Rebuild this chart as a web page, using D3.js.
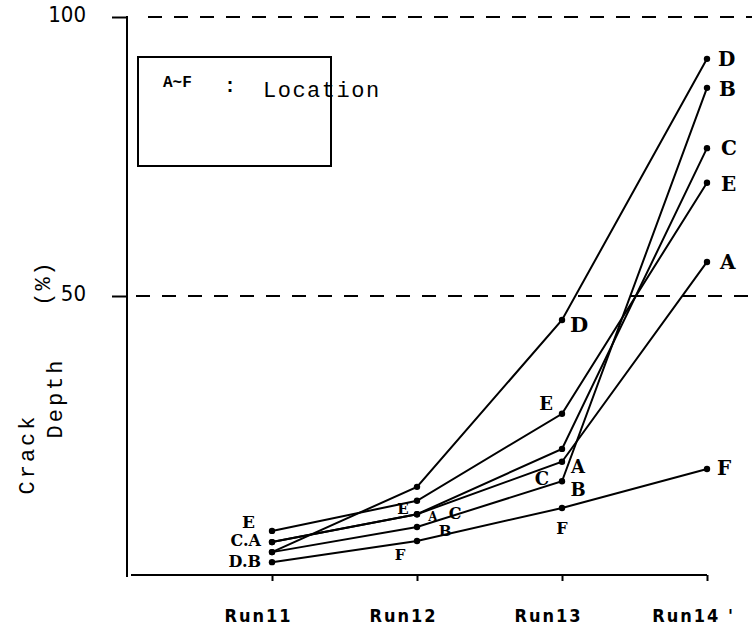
<!DOCTYPE html>
<html><head><meta charset="utf-8">
<script src="https://cdn.jsdelivr.net/npm/d3@7"></script>
<style>
body{margin:0;background:#fff;}
svg{display:block;}
.serif{font-family:"DejaVu Serif","Liberation Serif",serif;}
.mono{font-family:"Liberation Mono","DejaVu Sans Mono",monospace;}
.narrow{font-family:"Liberation Sans Narrow","DejaVu Sans Condensed","Liberation Sans",sans-serif;font-stretch:condensed;}
</style></head>
<body>
<svg id="chart" width="752" height="641"></svg>
<script>
// ---------- data ----------
const runs = ["Run11", "Run12", "Run13", "Run14"];
const runLabels = ["Run11", "Run12", "Run13", "Run14 '"];
const yTicks = [50, 100];
const seriesA = [5.9, 10.9, 20.3, 56.1];
const seriesB = [4.1, 8.6, 16.8, 87.3];
const seriesC = [5.9, 10.9, 22.6, 76.5];
const seriesD = [4.1, 15.8, 45.7, 92.5];
const seriesE = [7.9, 13.3, 28.9, 70.3];
const seriesF = [2.3, 6.1, 12.0, 19.0];
const seriesNames = ["A", "B", "C", "D", "E", "F"];
const legendKey = "A~F";
const legendText = "Location";
const yTitle = ["Crack", "Depth", "(%)"];

// point label texts: [run index, value, text]
const pointLabels = [
  [0, 7.9, "E"], [0, 5.9, "C.A"], [0, 4.1, "D.B"],
  [1, 13.3, "E"], [1, 10.9, "A"], [1, 10.9, "C"], [1, 8.6, "B"], [1, 6.1, "F"],
  [2, 45.7, "D"], [2, 28.9, "E"], [2, 16.8, "C"], [2, 20.3, "A"], [2, 16.8, "B"], [2, 12.0, "F"],
  [3, 92.5, "D"], [3, 87.3, "B"], [3, 76.5, "C"], [3, 70.3, "E"], [3, 56.1, "A"], [3, 19.0, "F"]
];

// ---------- layout / styles ----------
const labelStyle = [
  {dx:-17, dy:-3, size:17, anchor:"end"}, {dx:-11, dy:4, size:16, anchor:"end"}, {dx:-11, dy:15, size:16, anchor:"end"},
  {dx:-14, dy:13, size:15, anchor:"middle"}, {dx:16, dy:7, size:12, anchor:"middle"}, {dx:38, dy:5, size:16, anchor:"middle"}, {dx:28, dy:9, size:15, anchor:"middle"}, {dx:-17, dy:19, size:15, anchor:"middle"},
  {dx:8, dy:12, size:21, anchor:"start"}, {dx:-16, dy:-4, size:18, anchor:"middle"}, {dx:-20, dy:4, size:18, anchor:"middle"}, {dx:16, dy:11, size:18, anchor:"middle"}, {dx:16, dy:15, size:18, anchor:"middle"}, {dx:0, dy:26, size:16, anchor:"middle"},
  {dx:11, dy:7, size:20, anchor:"start"}, {dx:12, dy:8, size:20, anchor:"start"}, {dx:14, dy:7, size:20, anchor:"start"}, {dx:14, dy:8, size:20, anchor:"start"}, {dx:13, dy:7, size:20, anchor:"start"}, {dx:10, dy:6, size:20, anchor:"start"}
];

const svg = d3.select("#chart");
const x = d3.scalePoint().domain(runs).range([272, 707]);
const y = d3.scaleLinear().domain([0, 100]).range([575, 17]);
const allSeries = [seriesA, seriesB, seriesC, seriesD, seriesE, seriesF];

// dashed reference lines
svg.append("g").selectAll("line").data(yTicks).join("line")
  .attr("x1", d => d === 100 ? 148 : 136).attr("x2", 752)
  .attr("y1", d => y(d)).attr("y2", d => y(d))
  .attr("stroke", "#000").attr("stroke-width", 2).attr("stroke-dasharray", "14,12");

// y axis
const yAxis = d3.axisLeft(y).tickValues(yTicks).tickSize(15).tickPadding(26).tickFormat(d3.format("d"));
const gy = svg.append("g").attr("transform", "translate(127,0)").call(yAxis);
gy.select(".domain").attr("d", `M0,${y(100)-1}V${y(0)+2}`).attr("stroke-width", 2);
gy.selectAll(".tick line").attr("stroke-width", 2);
gy.selectAll(".tick text").attr("class", "narrow").attr("font-size", 22).attr("fill", "#000").attr("dy", "0.2em");

// x axis
const xAxis = d3.axisBottom(x).tickSize(6).tickPadding(28).tickFormat((d, i) => runLabels[i]);
const gx = svg.append("g").attr("transform", `translate(0,${y(0)})`).call(xAxis);
gx.select(".domain").attr("d", `M131,0H707`).attr("stroke-width", 2);
gx.selectAll(".tick line").attr("stroke-width", 2);
gx.selectAll(".tick text").attr("class", "narrow").attr("font-size", 18).attr("font-weight", "bold")
  .attr("fill", "#000").attr("dx", -14).attr("letter-spacing", 2);

// series lines
const line = d3.line().x((d, i) => x(runs[i])).y(d => y(d));
svg.append("g").selectAll("path").data(allSeries).join("path")
  .attr("d", line).attr("fill", "none").attr("stroke", "#000").attr("stroke-width", 2);

// points
svg.append("g").selectAll("g").data(allSeries).join("g")
  .selectAll("circle").data(d => d).join("circle")
  .attr("cx", (d, i) => x(runs[i])).attr("cy", d => y(d)).attr("r", 3.2).attr("fill", "#000");

// point labels
svg.append("g").selectAll("text").data(pointLabels).join("text")
  .attr("class", "serif")
  .attr("x", (d, i) => x(runs[d[0]]) + labelStyle[i].dx)
  .attr("y", (d, i) => y(d[1]) + labelStyle[i].dy)
  .attr("font-size", (d, i) => labelStyle[i].size)
  .attr("text-anchor", (d, i) => labelStyle[i].anchor)
  .attr("font-weight", "bold")
  .text(d => d[2]);

// legend box
svg.append("rect").attr("x", 138).attr("y", 57).attr("width", 193).attr("height", 109)
  .attr("fill", "none").attr("stroke", "#000").attr("stroke-width", 2);
svg.append("text").attr("class", "mono").attr("x", 163).attr("y", 87).attr("font-size", 16).attr("font-weight", "bold")
  .text(legendKey);
svg.append("text").attr("class", "mono").attr("x", 224).attr("y", 92).attr("font-size", 20).attr("font-weight", "bold").text(":");
svg.append("text").attr("class", "mono").attr("x", 263).attr("y", 97).attr("font-size", 22).attr("letter-spacing", 1.5)
  .text(legendText);

// y title (rotated)
const tt = svg.append("g");
tt.append("text").attr("class", "mono").attr("transform", "translate(34,454) rotate(-90)")
  .attr("text-anchor", "middle").attr("font-size", 22).attr("letter-spacing", 3).text(yTitle[0]);
tt.append("text").attr("class", "mono").attr("transform", "translate(62,398) rotate(-90)")
  .attr("text-anchor", "middle").attr("font-size", 22).attr("letter-spacing", 3).text(yTitle[1]);
tt.append("text").attr("class", "mono").attr("transform", "translate(50,283) rotate(-90)")
  .attr("text-anchor", "middle").attr("font-size", 22).attr("letter-spacing", 2).text(yTitle[2]);
</script>
</body></html>
